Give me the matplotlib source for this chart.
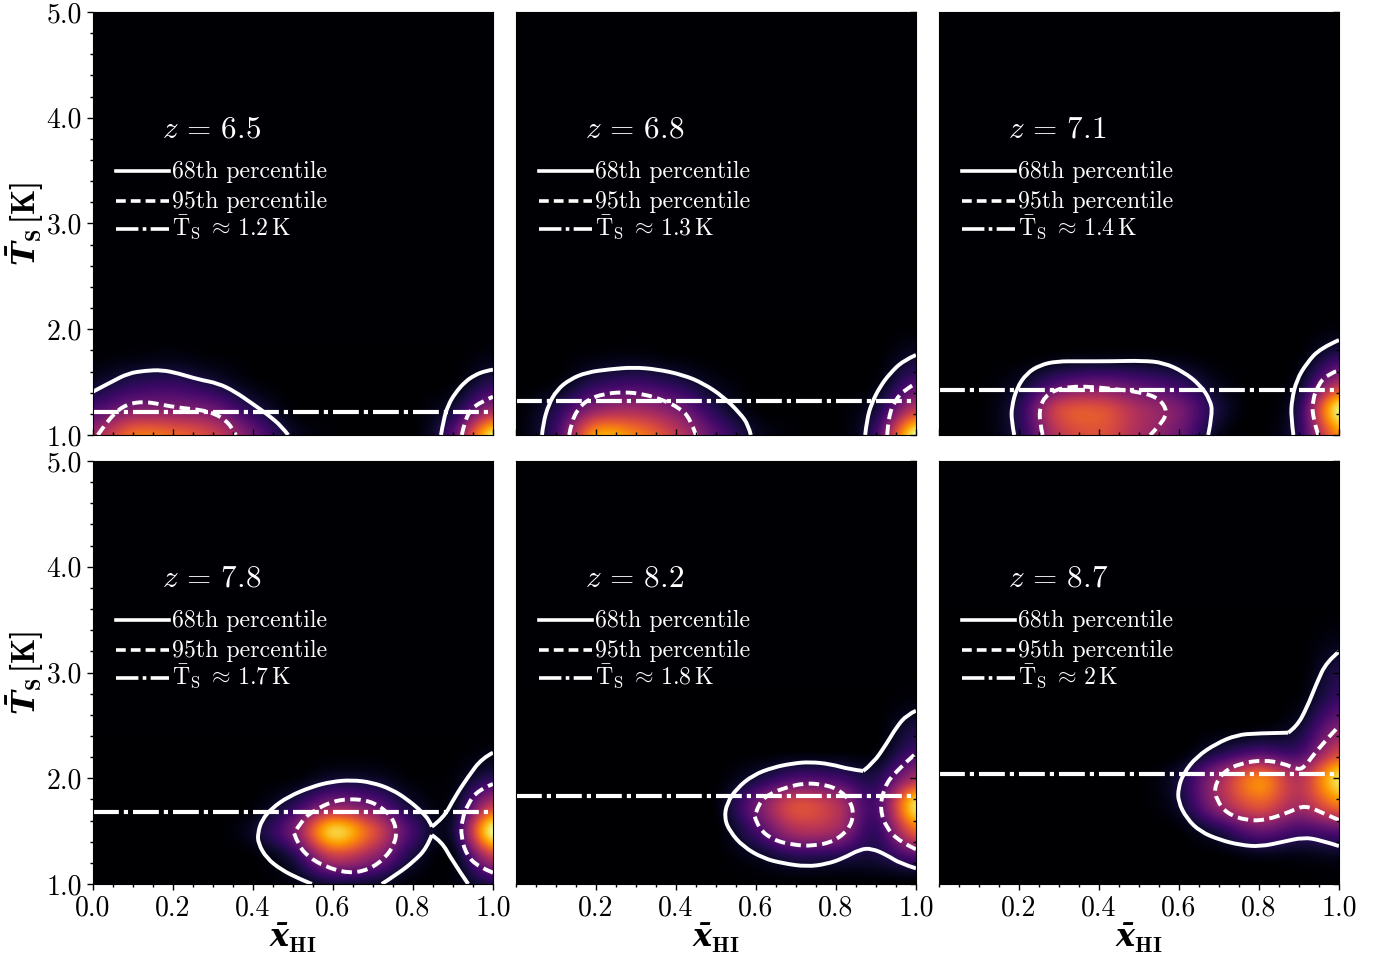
import numpy as np
import matplotlib
matplotlib.use("Agg")
import matplotlib.pyplot as plt
from matplotlib.path import Path
from matplotlib.patches import PathPatch
from matplotlib.ticker import MultipleLocator, NullFormatter

plt.rcParams['font.family'] = ['cmr10', 'DejaVu Serif']
plt.rcParams['mathtext.fontset'] = 'cm'
plt.rcParams['axes.formatter.use_mathtext'] = True
plt.rcParams['mathtext.bf'] = 'cmb10'
plt.rcParams['mathtext.bfit'] = 'DejaVu Serif:italic:bold'
plt.rcParams['mathtext.rm'] = 'cmb10'

redshifts = ['6.5', '6.8', '7.1', '7.8', '8.2', '8.7']
mean_labels = ['1.2', '1.3', '1.4', '1.7', '1.8', '2']
mean_ts = [1.22, 1.32, 1.425, 1.68, 1.83, 2.04]

# density, rows y = 1.0, 1.25, 1.5 ... columns x = 0.0, 0.1 ... 1.0
dens1 = [[.42, .68, .66, .55, .30, .07, .01, 0, 0, .25, .95],
         [.22, .34, .35, .30, .13, .01, 0, 0, 0, .10, .40],
         [.07, .14, .16, .10, .02, 0, 0, 0, 0, .01, .14],
         [.01, .02, .03, .01, 0, 0, 0, 0, 0, 0, .03]]
dens2 = [[.01, .20, .78, .72, .52, .25, .07, .01, 0, .20, 1.0],
         [0, .13, .38, .43, .33, .13, .01, 0, 0, .10, .50],
         [0, .02, .14, .18, .13, .04, 0, 0, 0, .02, .22],
         [0, 0, .02, .03, .01, 0, 0, 0, 0, 0, .08],
         [0, 0, 0, 0, 0, 0, 0, 0, 0, 0, .01]]
dens3 = [[0, 0, .13, .50, .60, .45, .30, .05, 0, .15, .75],
         [0, 0, .14, .55, .60, .45, .33, .10, 0, .15, .95],
         [0, 0, .06, .22, .28, .23, .16, .04, 0, .06, .45],
         [0, 0, 0, .02, .03, .03, .02, 0, 0, .01, .15],
         [0, 0, 0, 0, 0, 0, 0, 0, 0, 0, .02]]
dens4 = [[0, 0, 0, 0, 0, .03, .10, .08, .01, .02, .13],
         [0, 0, 0, 0, .01, .12, .50, .38, .10, .03, .50],
         [0, 0, 0, 0, .07, .32, .88, .60, .20, .10, .98],
         [0, 0, 0, 0, .01, .14, .36, .28, .08, .05, .50],
         [0, 0, 0, 0, 0, .01, .08, .07, .01, .02, .15],
         [0, 0, 0, 0, 0, 0, 0, 0, 0, 0, .03]]
dens5 = [[0, 0, 0, 0, 0, 0, 0, 0, 0, 0, 0],
         [0, 0, 0, 0, 0, 0, .05, .13, .12, .10, .22],
         [0, 0, 0, 0, 0, 0, .20, .45, .42, .17, .65],
         [0, 0, 0, 0, 0, .02, .30, .58, .48, .22, .92],
         [0, 0, 0, 0, 0, 0, .10, .22, .20, .13, .45],
         [0, 0, 0, 0, 0, 0, 0, .01, .01, .02, .20],
         [0, 0, 0, 0, 0, 0, 0, 0, 0, 0, .10],
         [0, 0, 0, 0, 0, 0, 0, 0, 0, 0, .02]]
dens6 = [[0, 0, 0, 0, 0, 0, 0, 0, 0, 0, 0],
         [0, 0, 0, 0, 0, 0, 0, 0, .03, .03, .05],
         [0, 0, 0, 0, 0, 0, .01, .12, .28, .20, .25],
         [0, 0, 0, 0, 0, 0, .08, .40, .62, .45, .70],
         [0, 0, 0, 0, 0, 0, .10, .42, .72, .48, .92],
         [0, 0, 0, 0, 0, 0, 0, .12, .22, .20, .55],
         [0, 0, 0, 0, 0, 0, 0, 0, .01, .08, .33],
         [0, 0, 0, 0, 0, 0, 0, 0, 0, .02, .18],
         [0, 0, 0, 0, 0, 0, 0, 0, 0, 0, .12],
         [0, 0, 0, 0, 0, 0, 0, 0, 0, 0, .05],
         [0, 0, 0, 0, 0, 0, 0, 0, 0, 0, .01]]

# contours, each one a list of (x list, y list)
c68_1 = [([0, .047, .088, .13, .172, .213, .263, .313, .355, .397, .438, .472, .488],
          [1.41, 1.504, 1.583, 1.608, 1.615, 1.583, 1.526, 1.489, 1.41, 1.30, 1.19, 1.08, 1.0]),
         ([.87, .876, .888, .905, .93, .955, .98, 1.0],
          [1.0, 1.14, 1.284, 1.394, 1.504, 1.567, 1.605, 1.618])]
c95_1 = [([.012, .022, .043, .063, .084, .105, .13, .155, .188, .23, .272, .305, .33, .347, .357],
          [1.0, 1.054, 1.158, 1.236, 1.284, 1.306, 1.312, 1.30, 1.274, 1.252, 1.236, 1.2, 1.142, 1.072, 1.0]),
         ([.922, .93, .947, .972, 1.0], [1.0, 1.142, 1.252, 1.315, 1.362])]

c68_2 = [([.065, .068, .081, .102, .135, .177, .235, .293, .352, .418, .468, .518, .56, .581, .587],
          [1.0, 1.11, 1.284, 1.426, 1.527, 1.593, 1.622, 1.64, 1.622, 1.568, 1.489, 1.363, 1.205, 1.095, 1.0]),
         ([.873, .877, .889, .91, .935, .968, 1.0], [1.0, 1.142, 1.30, 1.457, 1.583, 1.703, 1.757])]
c95_2 = [([.133, .139, .156, .181, .218, .268, .318, .368, .41, .435, .45],
          [1.0, 1.126, 1.252, 1.337, 1.388, 1.407, 1.388, 1.331, 1.252, 1.158, 1.0]),
         ([.928, .931, .948, .973, 1.0], [1.0, 1.173, 1.331, 1.432, 1.489])]

c68_3 = [([.188, .181, .182, .194, .219, .253, .294, .353, .428, .511, .561, .611, .653, .678, .684, .673],
          [1.0, 1.142, 1.268, 1.441, 1.583, 1.662, 1.697, 1.697, 1.697, 1.703, 1.684, 1.599, 1.473, 1.331, 1.205, 1.0]),
         ([.886, .88, .882, .894, .919, .953, 1.0], [1.0, 1.173, 1.331, 1.52, 1.678, 1.82, 1.898])]
c95_3 = [([.259, .251, .253, .265, .29, .328, .378, .436, .494, .544, .569, .565, .528],
          [1.0, 1.142, 1.268, 1.362, 1.426, 1.457, 1.457, 1.435, 1.41, 1.362, 1.252, 1.142, 1.0]),
         ([.948, .934, .934, .948, .969, 1.0], [1.0, 1.173, 1.331, 1.473, 1.567, 1.615])]

c68_4 = [([.547, .513, .472, .434, .413, .412, .422, .447, .488, .547, .597, .647, .697, .747, .788, .822, .843,
           .847],
          [1.0, 1.054, 1.132, 1.243, 1.385, 1.479, 1.605, 1.716, 1.826, 1.92, 1.968, 1.983, 1.961, 1.895, 1.794,
           1.684, 1.589, 1.542]),
         ([.847, .876, .905, .938, .972, 1.0], [1.542, 1.621, 1.826, 2.015, 2.188, 2.242]),
         ([.722, .763, .801, .834, .847], [1.0, 1.10, 1.211, 1.337, 1.463]),
         ([.847, .872, .897, .938], [1.463, 1.40, 1.227, 1.0])]
c95_4 = [([.503, .513, .538, .58, .638, .688, .73, .755, .759, .747, .713, .68, .638, .597, .555, .522, .503],
          [1.479, 1.369, 1.258, 1.164, 1.101, 1.132, 1.243, 1.385, 1.511, 1.637, 1.747, 1.794, 1.804, 1.779, 1.70,
           1.605, 1.479]),
         ([1.0, .963, .934, .92, .922, .938, .963, 1.0], [1.107, 1.164, 1.274, 1.448, 1.605, 1.763, 1.889, 1.946])]

c68_5 = [([1.0, .96, .927, .889, .86, .818, .777, .727, .668, .618, .568, .535, .521, .527, .552, .593, .643, .693,
           .735, .785, .835, .868],
          [1.148, 1.195, 1.274, 1.337, 1.328, 1.243, 1.189, 1.164, 1.195, 1.243, 1.353, 1.495, 1.621, 1.763, 1.905,
           2.031, 2.103, 2.141, 2.154, 2.135, 2.084, 2.069]),
         ([.868, .893, .927, .952, .977, 1.0], [2.069, 2.141, 2.33, 2.488, 2.598, 2.639])]
c95_5 = [([.597, .606, .643, .693, .743, .793, .831, .845, .835, .802, .76, .718, .677, .635, .606, .597],
          [1.637, 1.526, 1.416, 1.369, 1.359, 1.40, 1.511, 1.652, 1.794, 1.905, 1.946, 1.952, 1.914, 1.857, 1.763,
           1.637]),
         ([1.0, .96, .927, .91, .918, .943, 1.0], [1.328, 1.40, 1.526, 1.70, 1.889, 2.046, 2.236])]

c68_6 = [([1.0, .953, .911, .861, .803, .753, .703, .653, .619, .598, .598, .611, .644, .694, .744, .794, .873],
          [1.359, 1.416, 1.441, 1.40, 1.353, 1.369, 1.416, 1.495, 1.621, 1.779, 1.905, 2.046, 2.204, 2.33, 2.409,
           2.425, 2.431]),
         ([.873, .894, .919, .944, .969, 1.0], [2.431, 2.488, 2.661, 2.898, 3.103, 3.197])]
c95_6 = [([1.0, .961, .915, .878, .819, .769, .719, .694, .688, .711, .753, .811, .861, .898, .915, .948, 1.0],
          [1.605, 1.668, 1.747, 1.684, 1.605, 1.599, 1.668, 1.794, 1.92, 2.062, 2.141, 2.173, 2.141, 2.078, 2.11,
           2.283, 2.494])]

densities = [dens1, dens2, dens3, dens4, dens5, dens6]
c68 = [c68_1, c68_2, c68_3, c68_4, c68_5, c68_6]
c95 = [c95_1, c95_2, c95_3, c95_4, c95_5, c95_6]

W, H = 1378, 955
lefts = [93, 516, 939]
tops = [12, 461]
LW = 2.8
dash = (0, (2.7, 1.4))
dashdot = (0, (6.2, 1.2, 1.0, 1.2))


def smooth_line(ax, xs, ys, ls):
    # read points are used as quadratic control points, so the curve stays a curve
    pts = list(zip(xs, ys))
    verts = [pts[0]]
    codes = [Path.MOVETO]
    for k in range(1, len(pts)-1):
        mid = ((pts[k][0]+pts[k+1][0])/2, (pts[k][1]+pts[k+1][1])/2)
        if k == len(pts)-2:
            mid = pts[-1]
        verts += [pts[k], mid]
        codes += [Path.CURVE3, Path.CURVE3]
    ax.add_patch(PathPatch(Path(verts, codes), fill=False, edgecolor='white', lw=LW, ls=ls, capstyle='butt'))


fig = plt.figure(figsize=(W/100, H/100), dpi=100)

for i in range(6):
    row = i//3
    col = i % 3
    ax = fig.add_axes([lefts[col]/W, 1-(tops[row]+423)/H, 400/W, 423/H], facecolor='#000004')
    d = np.array(densities[i], dtype=float)
    nrow = d.shape[0]
    ax.imshow(d, origin='lower', cmap='inferno', vmin=0, vmax=1, interpolation='catrom', aspect='auto',
              extent=[-0.05, 1.05, 0.875, 0.875+0.25*nrow])
    for xs, ys in c68[i]:
        smooth_line(ax, xs, ys, '-')
    for xs, ys in c95[i]:
        smooth_line(ax, xs, ys, dash)
    ax.axhline(mean_ts[i], color='white', lw=3, ls=dashdot, dash_capstyle='butt')
    ax.set_xlim(0, 1)
    ax.set_ylim(1, 5)
    ax.xaxis.set_major_locator(MultipleLocator(0.2))
    ax.xaxis.set_minor_locator(MultipleLocator(0.05))
    ax.yaxis.set_major_locator(MultipleLocator(1))
    ax.yaxis.set_minor_locator(MultipleLocator(0.2))
    ax.tick_params(which='major', length=4, width=1, labelsize=20)
    ax.tick_params(which='minor', length=2, width=1)
    ax.tick_params(axis='x', which='both', direction='in' if row == 0 else 'out', pad=4)
    if row == 0:
        ax.tick_params(axis='x', labelbottom=False)
    else:
        ax.set_xticks([0.0, 0.2, 0.4, 0.6, 0.8, 1.0] if col == 0 else [0.2, 0.4, 0.6, 0.8, 1.0])
        ax.set_xticklabels(['0.0', '0.2', '0.4', '0.6', '0.8', '1.0'] if col == 0
                           else ['0.2', '0.4', '0.6', '0.8', '1.0'])
        ax.xaxis.set_minor_locator(MultipleLocator(0.05))
        ax.set_xlabel(r'$\mathbfit{\bar{x}}_{\mathbf{HI}}$', fontsize=23, labelpad=0, math_fontfamily='custom')
    if col == 0:
        ax.set_yticks([1, 2, 3, 4, 5])
        ax.set_yticklabels(['1.0', '2.0', '3.0', '4.0', '5.0'])
        ax.tick_params(axis='y', which='both', direction='out', pad=4)
        ax.set_ylabel(r'$\mathbfit{\bar{T}}_{\mathbf{S}}\,\mathbf{[K]}$', fontsize=23, labelpad=0,
                      math_fontfamily='custom')
    else:
        ax.yaxis.tick_right()
        ax.tick_params(axis='y', which='both', direction='in', labelright=False)
        ax.yaxis.set_major_formatter(NullFormatter())
    ax.text(0.1735, 0.722, r'$z\,=\,' + redshifts[i] + '$', color='white', fontsize=22.5, va='center',
            transform=ax.transAxes)
    # legend block laid out by hand, row pitch is not even enough for ax.legend
    labels = ['68th percentile', '95th percentile',
              r'$\bar{\mathrm{T}}_{\mathrm{S}}\;\approx\,' + mean_labels[i] + r'\,\mathrm{K}$']
    styles = ['-', dash, dashdot]
    rows_y = [0.623, 0.553, 0.487]
    text_y = [0.621, 0.551, 0.49]
    for lab, st, ry, ty in zip(labels, styles, rows_y, text_y):
        ax.plot([0.0575, 0.19], [ry, ry], color='white', lw=2.6, ls=st, dash_capstyle='butt',
                transform=ax.transAxes)
        ax.text(0.1975, ty, lab, color='white', fontsize=17.2, va='center', transform=ax.transAxes,
                math_fontfamily='cm')

plt.savefig('out.png', dpi=100)
